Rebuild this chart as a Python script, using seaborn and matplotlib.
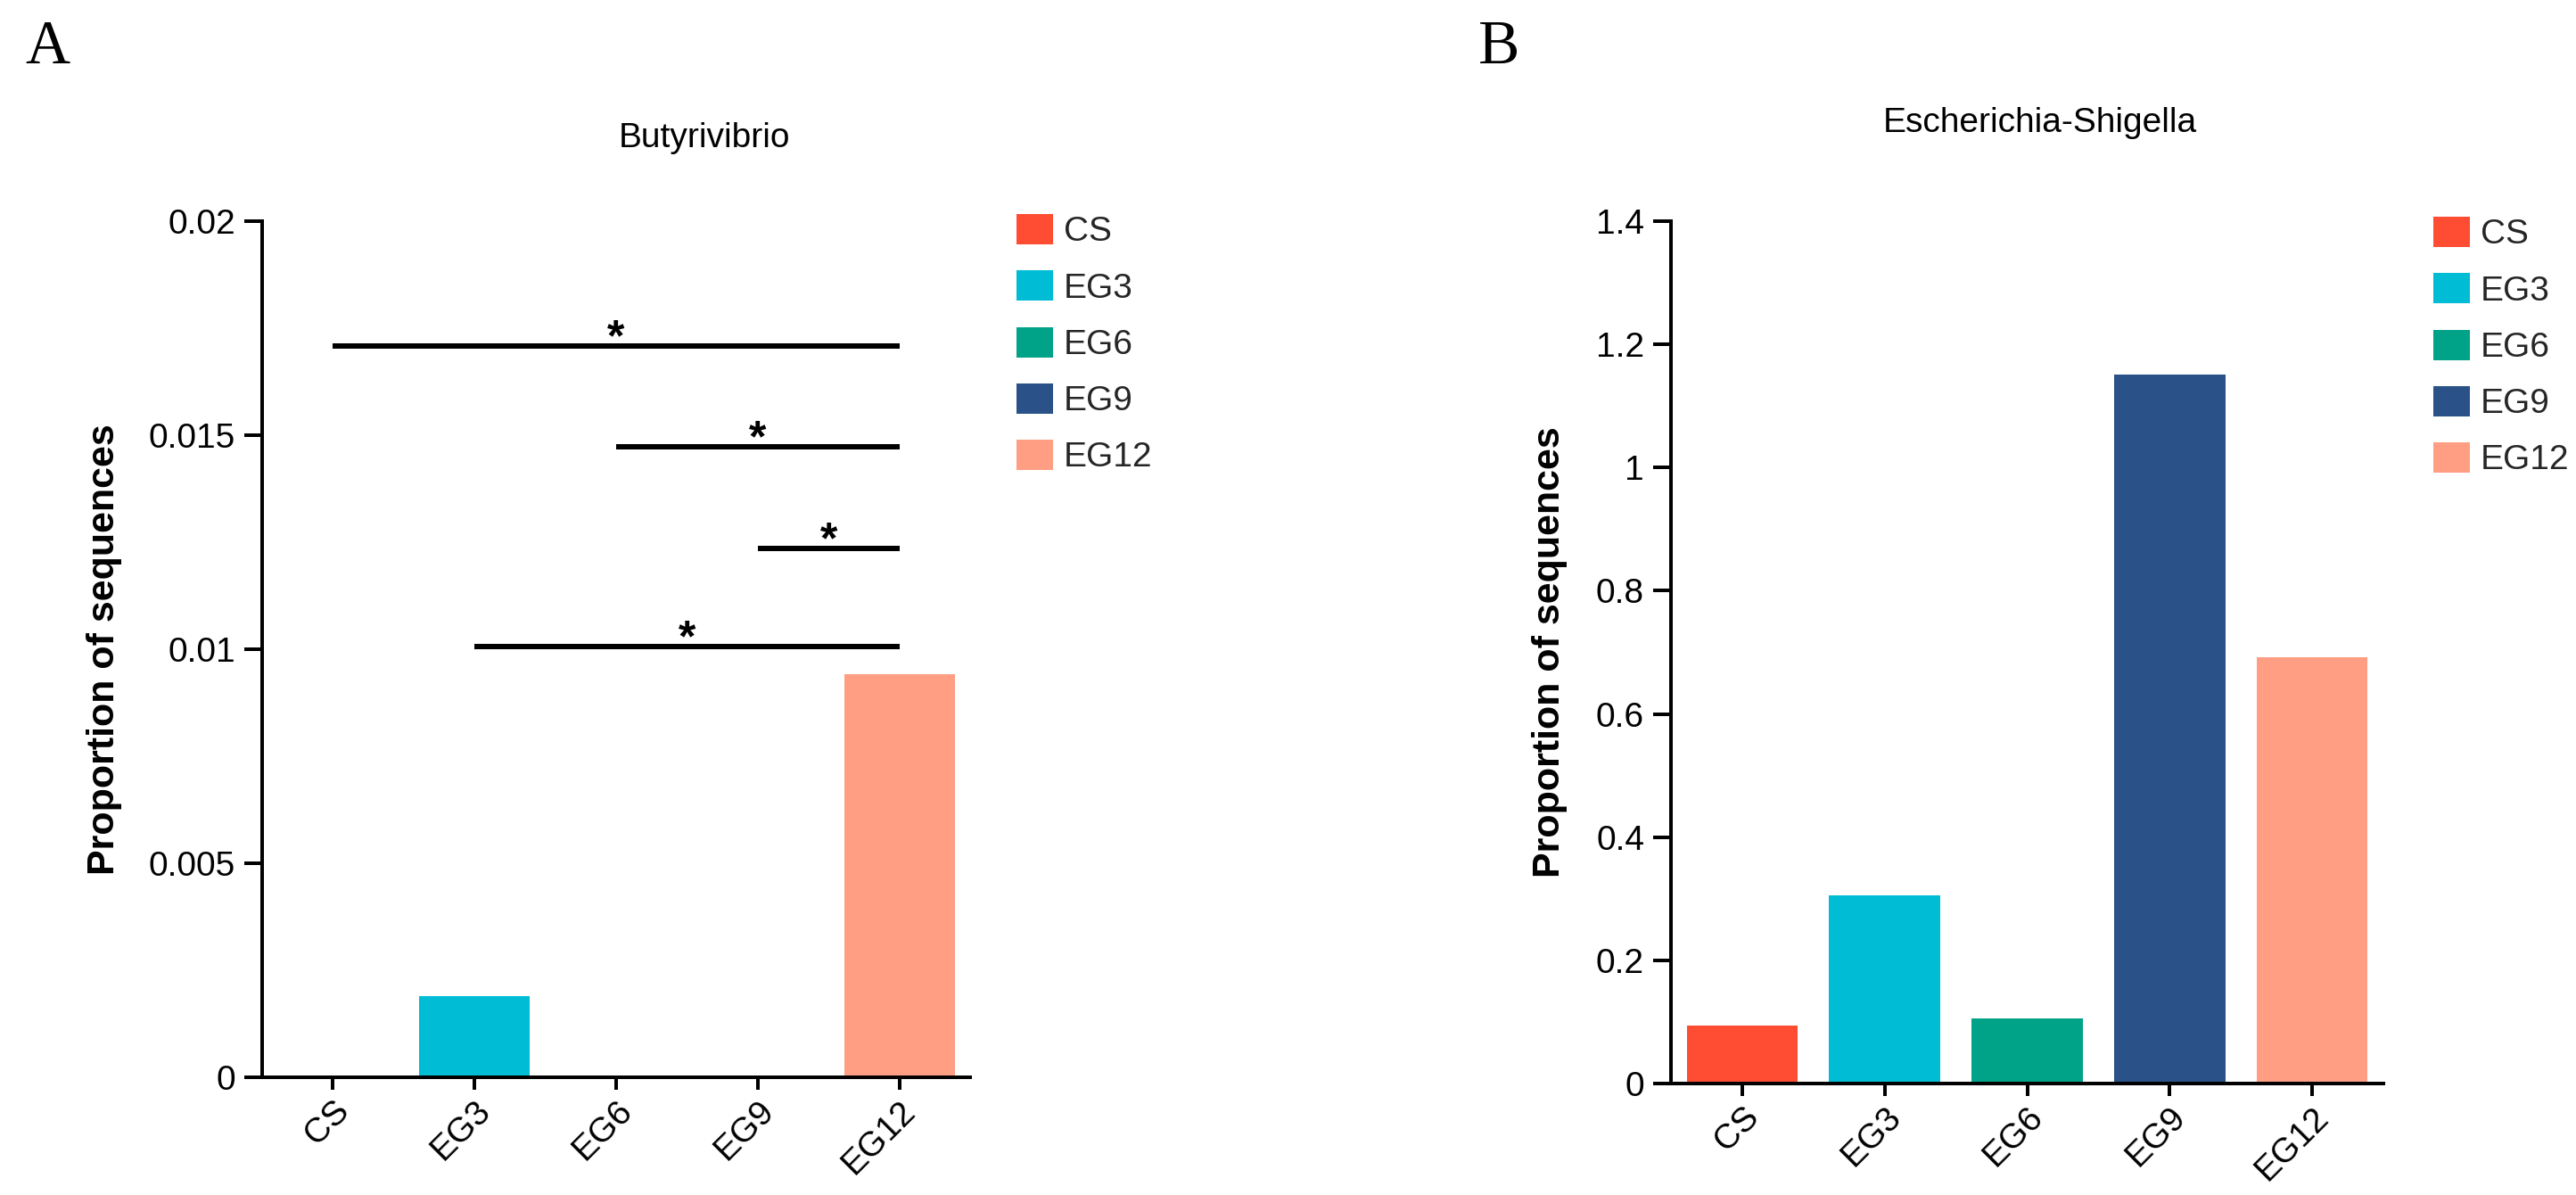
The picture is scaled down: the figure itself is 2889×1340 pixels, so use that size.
import matplotlib
matplotlib.use("Agg")
import matplotlib.pyplot as plt
import seaborn as sns
import pandas as pd
from matplotlib.ticker import FuncFormatter, FixedLocator

# ---- data ----
groups = ["CS", "EG3", "EG6", "EG9", "EG12"]
colors = ["#FF4D33", "#00BCD5", "#00A388", "#2A5288", "#FF9E82"]

butyrivibrio_values = [0.0, 0.0019, 0.0, 0.0, 0.00942]
butyrivibrio_ticks = [0, 0.005, 0.01, 0.015, 0.02]
sig_pairs = [("CS", "EG12"), ("EG6", "EG12"), ("EG9", "EG12"), ("EG3", "EG12")]
sig_heights = [0.01708, 0.01473, 0.01235, 0.01006]
sig_labels = ["*", "*", "*", "*"]

escherichia_values = [0.094, 0.305, 0.106, 1.151, 0.692]
escherichia_ticks = [0, 0.2, 0.4, 0.6, 0.8, 1.0, 1.2, 1.4]

titles = ["Butyrivibrio", "Escherichia-Shigella"]
panel_labels = ["A", "B"]
ylabel = "Proportion of sequences"

# ---- style ----
sns.set_theme(style="ticks")
plt.rcParams["font.family"] = ["Liberation Sans", "DejaVu Sans"]
plt.rcParams["axes.linewidth"] = 1.44

W, H = 2889, 1340
DPI = 200
fig = plt.figure(figsize=(W / DPI, H / DPI), dpi=DPI)
fig.patch.set_facecolor("white")

palette = dict(zip(groups, colors))

axL = fig.add_axes([294 / W, 1 - 1208 / H, 794 / W, 960 / H])
axR = fig.add_axes([1874 / W, 1 - 1215 / H, 799 / W, 967 / H])


def draw(ax, values, ticks, ylab_x, legend_xy):
    df = pd.DataFrame({"group": groups, "value": values})
    sns.barplot(data=df, x="group", y="value", hue="group", order=groups,
                hue_order=groups, palette=palette, dodge=False, width=0.78,
                linewidth=0, saturation=1, errorbar=None, legend=True, ax=ax)
    handles, labels = ax.get_legend_handles_labels()
    if ax.get_legend() is not None:
        ax.get_legend().remove()
    ax.set_xlim(-0.5, len(groups) - 0.5)
    ax.set_ylim(ticks[0], ticks[-1])
    ax.yaxis.set_major_locator(FixedLocator(ticks))
    ax.yaxis.set_major_formatter(FuncFormatter(lambda v, p: f"{v:g}"))
    sns.despine(ax=ax)
    for s in ("left", "bottom"):
        ax.spines[s].set_linewidth(1.44)
        ax.spines[s].set_color("black")
    ax.tick_params(axis="y", length=7.2, width=1.44, labelsize=14, pad=3.6,
                   colors="black")
    ax.tick_params(axis="x", length=5.0, width=1.44, labelsize=14, pad=2,
                   colors="black")
    for lab in ax.get_xticklabels():
        lab.set_rotation(45)
        lab.set_ha("right")
        lab.set_va("top")
        lab.set_rotation_mode("anchor")
    ax.set_xlabel("")
    ax.set_ylabel(ylabel, fontsize=15.5, fontweight="bold", color="black")
    ax.yaxis.set_label_coords(ylab_x, 0.5)
    ax.set_facecolor("white")
    ax.legend(handles, labels, loc="upper left", bbox_to_anchor=legend_xy,
              bbox_transform=fig.transFigure, frameon=False, borderpad=0,
              borderaxespad=0, fontsize=14, handlelength=1.05,
              handleheight=0.97, handletextpad=0.31, labelspacing=0.64)


draw(axL, butyrivibrio_values, butyrivibrio_ticks, (137 - 294) / 794,
     (1140 / W, 1 - 240 / H))
draw(axR, escherichia_values, escherichia_ticks, (1758 - 1874) / 799,
     (2729 / W, 1 - 243 / H))

# significance bars
for (g1, g2), h, lab in zip(sig_pairs, sig_heights, sig_labels):
    x1, x2 = groups.index(g1), groups.index(g2)
    axL.plot([x1, x2], [h, h], color="black", lw=2.16, solid_capstyle="butt")
    axL.annotate(lab, xy=((x1 + x2) / 2, h), xytext=(0, -2),
                 textcoords="offset points", ha="center", va="baseline",
                 fontsize=18, fontweight="bold", color="black")

# titles
fig.text(790 / W, 1 - 165 / H, titles[0], ha="center", va="baseline",
         fontsize=14, color="black")
fig.text(2288 / W, 1 - 148 / H, titles[1], ha="center", va="baseline",
         fontsize=14, color="black")

# panel labels
fig.text(28 / W, 1 - 71 / H, panel_labels[0], ha="left", va="baseline",
         fontsize=25, family=["Liberation Serif", "DejaVu Serif"], color="black")
fig.text(1658 / W, 1 - 71 / H, panel_labels[1], ha="left", va="baseline",
         fontsize=25, family=["Liberation Serif", "DejaVu Serif"], color="black")

fig.savefig("out.png", dpi=DPI, facecolor="white")
